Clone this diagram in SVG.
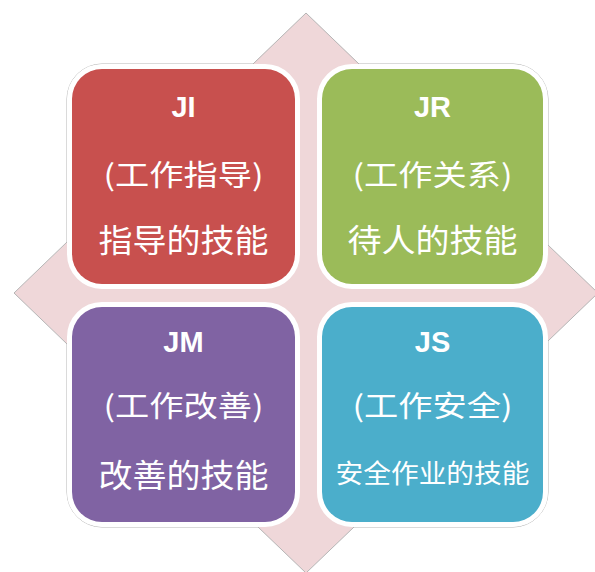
<svg xmlns="http://www.w3.org/2000/svg" width="595" height="572" viewBox="0 0 595 572">
<style>
.box{stroke:#ffffff;stroke-width:10;paint-order:stroke}
.t1{font-family:"Liberation Sans",Arial,sans-serif;font-weight:bold;font-size:29px;fill:#ffffff;text-anchor:middle}
.t2{font-family:"Noto Sans CJK SC","Noto Sans",sans-serif;font-size:29px;fill:#ffffff;text-anchor:middle}
.t3{font-family:"Noto Sans CJK SC","Noto Sans",sans-serif;font-size:32px;fill:#ffffff;text-anchor:middle}
.t4{font-family:"Noto Sans CJK SC","Noto Sans",sans-serif;font-size:26px;fill:#ffffff;text-anchor:middle}
</style>
<rect width="595" height="572" fill="#ffffff"/>
<g id="background">
<polygon points="306,13 598,293 306,573 14,293" fill="#EFD7D9"/>
<path d="M306,13 L359,64 L513,64 A35,35 0 0 1 548,99 L548,245 L598,293 L548,341 L548,492 A35,35 0 0 1 513,527 L354,527 L306,573 L258,527 L102,527 A35,35 0 0 1 67,492 L67,344 L14,293 L67,242 L67,99 A35,35 0 0 1 102,64 L253,64 Z" fill="none" stroke="#b5b5b5" stroke-width="1"/>
</g>
<g id="JI">
<rect class="box" x="72" y="69" width="223" height="215" rx="30" fill="#C8504E"/>
<text class="t1" x="183.5" y="117">JI</text>
<text class="t2" x="183.5" y="186" textLength="160" lengthAdjust="spacingAndGlyphs">(工作指导)</text>
<text class="t3" x="183.5" y="252" textLength="170" lengthAdjust="spacingAndGlyphs">指导的技能</text>
</g>
<g id="JR">
<rect class="box" x="322" y="69" width="221" height="215" rx="30" fill="#9BBB59"/>
<text class="t1" x="432.5" y="117">JR</text>
<text class="t2" x="432.5" y="186" textLength="160" lengthAdjust="spacingAndGlyphs">(工作关系)</text>
<text class="t3" x="432.5" y="252" textLength="170" lengthAdjust="spacingAndGlyphs">待人的技能</text>
</g>
<g id="JM">
<rect class="box" x="72" y="307" width="223" height="215" rx="30" fill="#8063A3"/>
<text class="t1" x="183.5" y="352">JM</text>
<text class="t2" x="183.5" y="417" textLength="160" lengthAdjust="spacingAndGlyphs">(工作改善)</text>
<text class="t3" x="183.5" y="487" textLength="170" lengthAdjust="spacingAndGlyphs">改善的技能</text>
</g>
<g id="JS">
<rect class="box" x="322" y="307" width="221" height="215" rx="30" fill="#4BAECB"/>
<text class="t1" x="432.5" y="352">JS</text>
<text class="t2" x="432.5" y="417" textLength="160" lengthAdjust="spacingAndGlyphs">(工作安全)</text>
<text class="t4" x="432.5" y="483" textLength="194" lengthAdjust="spacingAndGlyphs">安全作业的技能</text>
</g>
<g id="connectors"></g>
</svg>
